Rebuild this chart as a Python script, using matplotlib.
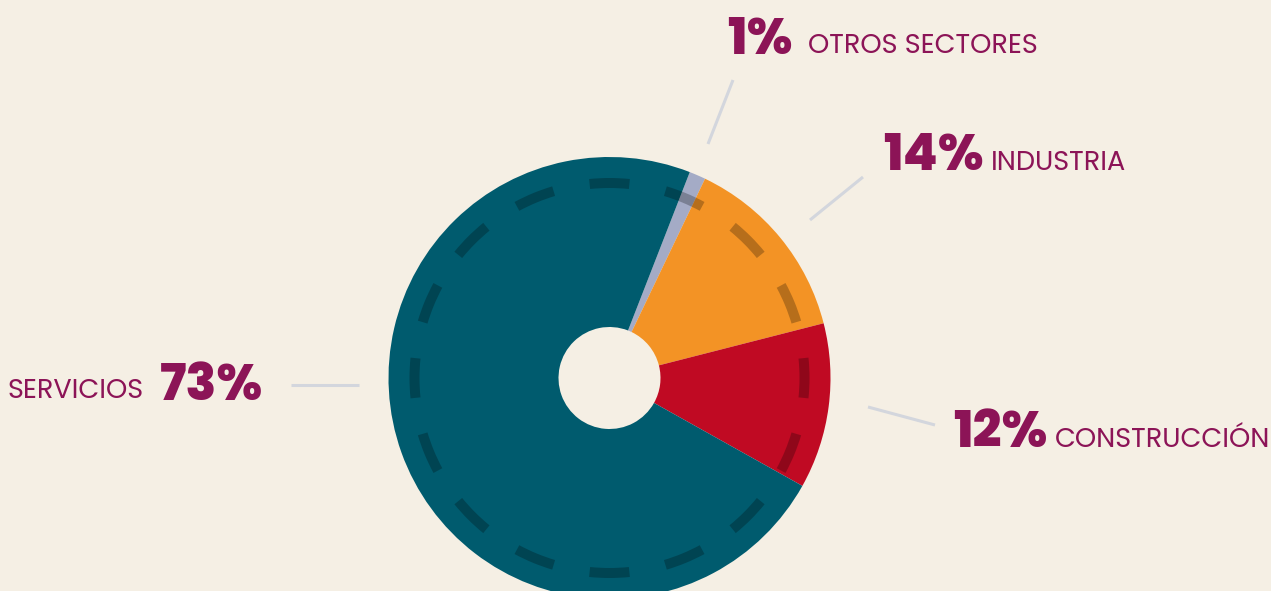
import numpy as np
import matplotlib
matplotlib.use("Agg")
import matplotlib.pyplot as plt
from matplotlib.patches import Wedge

# ---- data ----
sectors = ["OTROS SECTORES", "INDUSTRIA", "CONSTRUCCIÓN", "SERVICIOS"]
shares = [1.2, 13.9, 12.1, 72.8]          # slice sizes
labels_pct = ["1%", "14%", "12%", "73%"]   # printed labels
colors = ["#a4abc6", "#f39325", "#c00a23", "#005b6e"]

BG = "#f5efe4"
TXT = "#8c1457"
LEAD = "#d3d6dd"

W, H = 1271, 591
fig = plt.figure(figsize=(W / 100, H / 100), dpi=100, facecolor=BG)
ax = fig.add_axes([0, 0, 1, 1])
ax.set_facecolor(BG)

cx, cy = 609.5, H - 378
R, r_in = 221, 51

wedges, _ = ax.pie(shares, colors=colors, startangle=90 - 21.3, counterclock=False,
                   center=(cx, cy), radius=R,
                   wedgeprops=dict(width=R - r_in, linewidth=0))

# dashed inner ring (decoration)
n_dash = 16
rd = 195
for k in range(n_dash):
    a = 90 - k * 360 / n_dash
    span = 360 / n_dash * 0.52
    ax.add_patch(Wedge((cx, cy), rd + 5, a - span / 2, a + span / 2, width=10,
                       facecolor="black", alpha=0.25, linewidth=0, zorder=3))

ax.set_xlim(0, W)
ax.set_ylim(0, H)
ax.set_aspect("equal")
ax.axis("off")

FAM = ["Poppins", "Inter", "DejaVu Sans"]
BIG = dict(fontsize=36.5, fontweight="heavy", color=TXT, family=FAM)
SMALL = dict(fontsize=19.5, fontweight="normal", color=TXT, family=FAM)

def yy(p):
    return H - p

# Otros
ax.text(727, yy(54), labels_pct[0], ha="left", va="baseline", **BIG)
ax.text(808, yy(53), sectors[0], ha="left", va="baseline", **SMALL)
ax.plot([733, 708], [yy(80), yy(144)], color=LEAD, lw=2.2, solid_capstyle="butt")
# Industria
ax.text(883, yy(170), labels_pct[1], ha="left", va="baseline", **BIG)
ax.text(991, yy(170), sectors[1], ha="left", va="baseline", **SMALL)
ax.plot([863, 810], [yy(177), yy(220)], color=LEAD, lw=2.2, solid_capstyle="butt")
# Construcción
ax.text(953, yy(447), labels_pct[2], ha="left", va="baseline", **BIG)
ax.text(1055, yy(447), sectors[2], ha="left", va="baseline", **SMALL)
ax.plot([868, 935], [yy(407), yy(425)], color=LEAD, lw=2.2, solid_capstyle="butt")
# Servicios
ax.text(263, yy(400), labels_pct[3], ha="right", va="baseline", **BIG)
ax.text(144, yy(398), sectors[3], ha="right", va="baseline", **SMALL)
ax.plot([291, 359], [yy(385), yy(385)], color=LEAD, lw=2.2, solid_capstyle="butt")

fig.savefig("out.png", dpi=100, facecolor=BG)
